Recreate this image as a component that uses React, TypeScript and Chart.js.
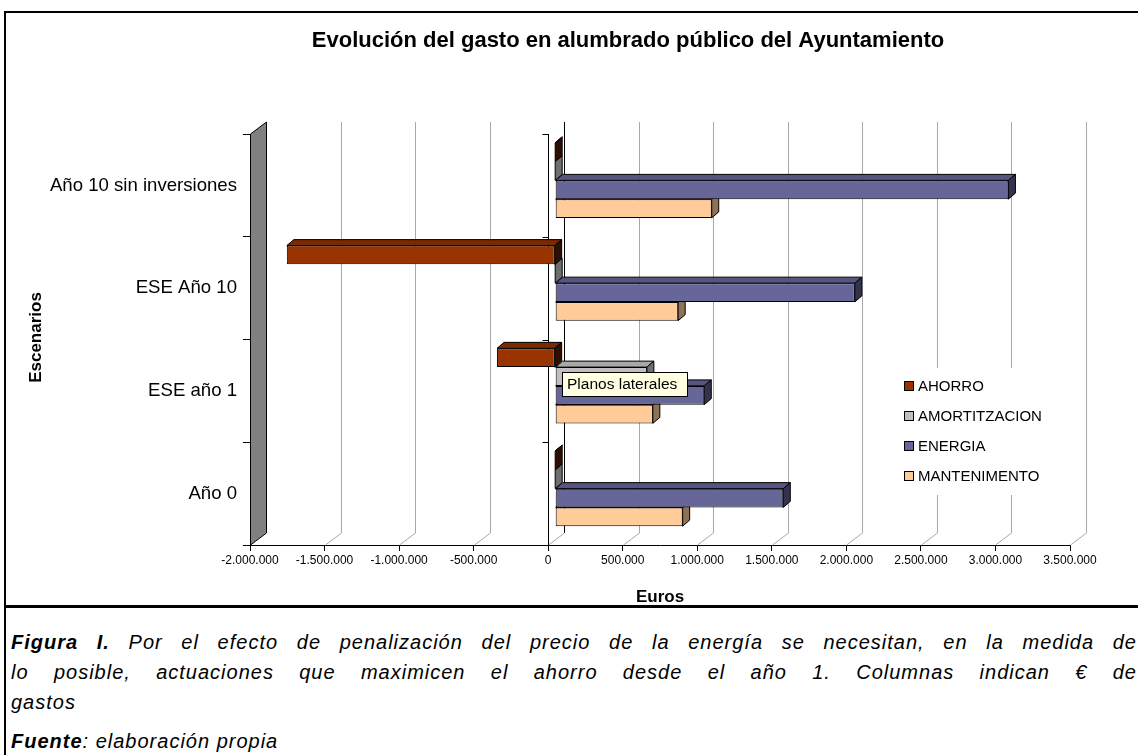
import React, { useEffect, useRef } from "react";
import { Chart, registerables } from "chart.js";

Chart.register(...registerables);

// ---------- data ----------
const categories = ["Año 10 sin inversiones", "ESE Año 10", "ESE año 1", "Año 0"];
const seriesNames = ["AHORRO", "AMORTITZACION", "ENERGIA", "MANTENIMENTO"];
const ahorro = [0, -1800000, -390000, 0];
const amortitzacion = [0, 0, 615000, 0];
const energia = [3040000, 2010000, 1000000, 1530000];
const mantenimento = [1050000, 825000, 655000, 855000];
const xMin = -2000000;
const xMax = 3500000;
const xStep = 500000;

const chartTitle = "Evolución del gasto en alumbrado público del Ayuntamiento";
const xTitle = "Euros";
const yTitle = "Escenarios";
const hoverNote = "Planos laterales";

// ---------- styles ----------
const FONT = '"Liberation Sans", Arial, Helvetica, sans-serif';
const frontColors = ["#993300", "#C0C0C0", "#666699", "#FFCC99"];
const topColors = ["#7a2900", "#a8a8a8", "#55557f", "#d9ad82"];
const sideColors = ["#2e0f00", "#6e6e6e", "#33334d", "#8f7256"];

const WALL_DX = 16;
const WALL_DY = -12;
const SHIFT_X = 7;
const SHIFT_Y = -5;
const BAR_DX = 7;
const BAR_DY = -6;

const fmt = (v: number) => {
  const s = Math.abs(v).toString().replace(/\B(?=(\d{3})+(?!\d))/g, ".");
  return (v < 0 ? "-" : "") + s;
};

function line(ctx: CanvasRenderingContext2D, x1: number, y1: number, x2: number, y2: number) {
  ctx.beginPath();
  ctx.moveTo(x1, y1);
  ctx.lineTo(x2, y2);
  ctx.stroke();
}

function poly(ctx: CanvasRenderingContext2D, pts: number[][], fill: string) {
  ctx.beginPath();
  ctx.moveTo(pts[0][0], pts[0][1]);
  for (let i = 1; i < pts.length; i++) ctx.lineTo(pts[i][0], pts[i][1]);
  ctx.closePath();
  ctx.fillStyle = fill;
  ctx.fill();
  ctx.strokeStyle = "#000";
  ctx.lineWidth = 1;
  ctx.stroke();
}

const excel3d = {
  id: "excel3d",
  beforeDatasetsDraw(chart: any) {
    const { ctx, chartArea: a, scales } = chart;
    const x = scales.x;
    const y = scales.y;
    ctx.save();
    ctx.lineWidth = 1;
    // back wall grid lines + floor diagonals
    x.ticks.forEach((t: any) => {
      const px = Math.round(x.getPixelForValue(t.value)) + 0.5;
      if (t.value === xMin) return;
      ctx.strokeStyle = t.value === 0 ? "#000" : "#a8a8a8";
      line(ctx, px + WALL_DX, a.top + WALL_DY, px + WALL_DX, a.bottom + WALL_DY);
      ctx.strokeStyle = "#a8a8a8";
      line(ctx, px, a.bottom, px + WALL_DX, a.bottom + WALL_DY);
    });
    // grey side wall
    const lx = Math.round(a.left) + 0.5;
    poly(
      ctx,
      [
        [lx, a.top],
        [lx + WALL_DX, a.top + WALL_DY],
        [lx + WALL_DX, a.bottom + WALL_DY],
        [lx, a.bottom],
      ],
      "#808080"
    );
    // front category axis at zero
    const zx = Math.round(x.getPixelForValue(0)) + 0.5;
    ctx.strokeStyle = "#000";
    line(ctx, zx, a.top, zx, a.bottom);
    const n = y.ticks.length;
    for (let i = 0; i <= n; i++) {
      const yy = Math.round(a.top + (i * (a.bottom - a.top)) / n) + 0.5;
      line(ctx, zx - 6, yy, zx, yy);
    }
    ctx.restore();
  },
  beforeDatasetDraw(chart: any, args: any) {
    const ctx = chart.ctx;
    ctx.save();
    ctx.translate(SHIFT_X, SHIFT_Y);
    const i = args.index;
    args.meta.data.forEach((bar: any) => {
      const p = bar.getProps(["x", "y", "base", "height"], true);
      const top = p.y - p.height / 2;
      const bot = p.y + p.height / 2;
      const xl = Math.min(p.x, p.base);
      const xr = Math.max(p.x, p.base);
      poly(
        ctx,
        [
          [xl, top],
          [xl + BAR_DX, top + BAR_DY],
          [xr + BAR_DX, top + BAR_DY],
          [xr, top],
        ],
        topColors[i]
      );
      poly(
        ctx,
        [
          [xr, top],
          [xr + BAR_DX, top + BAR_DY],
          [xr + BAR_DX, bot + BAR_DY],
          [xr, bot],
        ],
        sideColors[i]
      );
    });
  },
  afterDatasetDraw(chart: any) {
    chart.ctx.restore();
  },
  afterDraw(chart: any) {
    const { ctx, chartArea: a } = chart;
    ctx.save();
    // chart title
    ctx.fillStyle = "#000";
    ctx.font = `bold 22px ${FONT}`;
    ctx.textAlign = "center";
    ctx.textBaseline = "alphabetic";
    ctx.fillText(chartTitle, 628, 47);
    // axis titles
    ctx.font = `bold 17px ${FONT}`;
    ctx.fillText(xTitle, (a.left + a.right) / 2, 602);
    ctx.save();
    ctx.translate(41, (a.top + a.bottom) / 2 - 2);
    ctx.rotate(-Math.PI / 2);
    ctx.fillText(yTitle, 0, 0);
    ctx.restore();
    // legend
    ctx.fillStyle = "#fff";
    ctx.fillRect(895, 368, 182, 127);
    ctx.font = `15px ${FONT}`;
    ctx.textAlign = "left";
    ctx.textBaseline = "middle";
    chart.data.datasets.forEach((ds: any, k: number) => {
      const cy = 386 + k * 30;
      ctx.fillStyle = ds.backgroundColor;
      ctx.fillRect(904.5, cy - 4.5, 9, 9);
      ctx.strokeStyle = "#000";
      ctx.lineWidth = 1;
      ctx.strokeRect(904.5, cy - 4.5, 9, 9);
      ctx.fillStyle = "#000";
      ctx.fillText(ds.label, 918, cy + 1);
    });
    // hover note (Excel tooltip)
    ctx.fillStyle = "#FFFFE1";
    ctx.fillRect(562.5, 372.5, 125, 24);
    ctx.strokeStyle = "#000";
    ctx.strokeRect(562.5, 372.5, 125, 24);
    ctx.fillStyle = "#000";
    ctx.font = `15.5px ${FONT}`;
    ctx.fillText(hoverNote, 567, 385);
    ctx.restore();
  },
};

export default function App() {
  const ref = useRef<HTMLCanvasElement | null>(null);

  useEffect(() => {
    if (!ref.current) return;
    const values = [ahorro, amortitzacion, energia, mantenimento];
    const chart = new Chart(ref.current, {
      type: "bar",
      data: {
        labels: categories,
        datasets: seriesNames.map((name, i) => ({
          label: name,
          data: values[i],
          backgroundColor: frontColors[i],
          borderColor: "#000",
          borderWidth: 1,
          borderSkipped: false,
          categoryPercentage: 0.73,
          barPercentage: 1.0,
          clip: false as any,
        })),
      },
      options: {
        indexAxis: "y",
        responsive: false,
        animation: false,
        devicePixelRatio: 1,
        layout: { padding: { top: 134, right: 68, left: 0, bottom: 0 } },
        plugins: {
          legend: { display: false },
          title: { display: false },
          tooltip: { enabled: false },
        },
        scales: {
          x: {
            type: "linear",
            min: xMin,
            max: xMax,
            ticks: {
              stepSize: xStep,
              callback: (v: any) => fmt(Number(v)),
              font: { family: FONT, size: 12 },
              color: "#000",
              padding: 2,
              maxRotation: 0,
              autoSkip: false,
            },
            grid: {
              drawOnChartArea: false,
              drawTicks: true,
              tickLength: 6,
              color: "#000",
            },
            border: { display: true, color: "#000" },
            afterFit: (s: any) => {
              s.height = 60;
            },
          },
          y: {
            type: "category",
            ticks: {
              font: { family: FONT, size: 18.6 },
              color: "#000",
              padding: 6,
            },
            grid: {
              offset: true,
              drawOnChartArea: false,
              drawTicks: true,
              tickLength: 7,
              color: "#000",
            },
            border: { display: true, color: "#000" },
            afterFit: (s: any) => {
              s.width = 250;
            },
          },
        },
      },
      plugins: [excel3d],
    });
    return () => chart.destroy();
  }, []);

  const lineStyle: React.CSSProperties = {
    textAlign: "justify",
    textAlignLast: "justify" as any,
  };

  return (
    <div
      style={{
        position: "fixed",
        left: 0,
        top: 0,
        width: 1138,
        height: 755,
        overflow: "hidden",
        background: "#fff",
        fontFamily: FONT,
      }}
    >
      <canvas
        ref={ref}
        width={1138}
        height={605}
        style={{ position: "absolute", left: 0, top: 0, width: 1138, height: 605 }}
      />
      <div style={{ position: "absolute", left: 4, top: 11, width: 1200, height: 2, background: "#000" }} />
      <div style={{ position: "absolute", left: 4, top: 11, width: 2, height: 760, background: "#000" }} />
      <div style={{ position: "absolute", left: 4, top: 605, width: 1200, height: 3, background: "#000" }} />
      <div
        style={{
          position: "absolute",
          left: 11,
          top: 627,
          width: 1126,
          fontSize: 20,
          letterSpacing: 1,
          fontStyle: "italic",
          lineHeight: "30px",
          color: "#000",
          whiteSpace: "nowrap",
        }}
      >
        <div style={lineStyle}>
          <b>Figura I.</b> Por el efecto de penalización del precio de la energía se necesitan, en la medida de
        </div>
        <div style={lineStyle}>
          lo posible, actuaciones que maximicen el ahorro desde el año 1. Columnas indican € de
        </div>
        <div>gastos</div>
        <div style={{ marginTop: 9 }}>
          <b>Fuente</b>: elaboración propia
        </div>
      </div>
    </div>
  );
}
